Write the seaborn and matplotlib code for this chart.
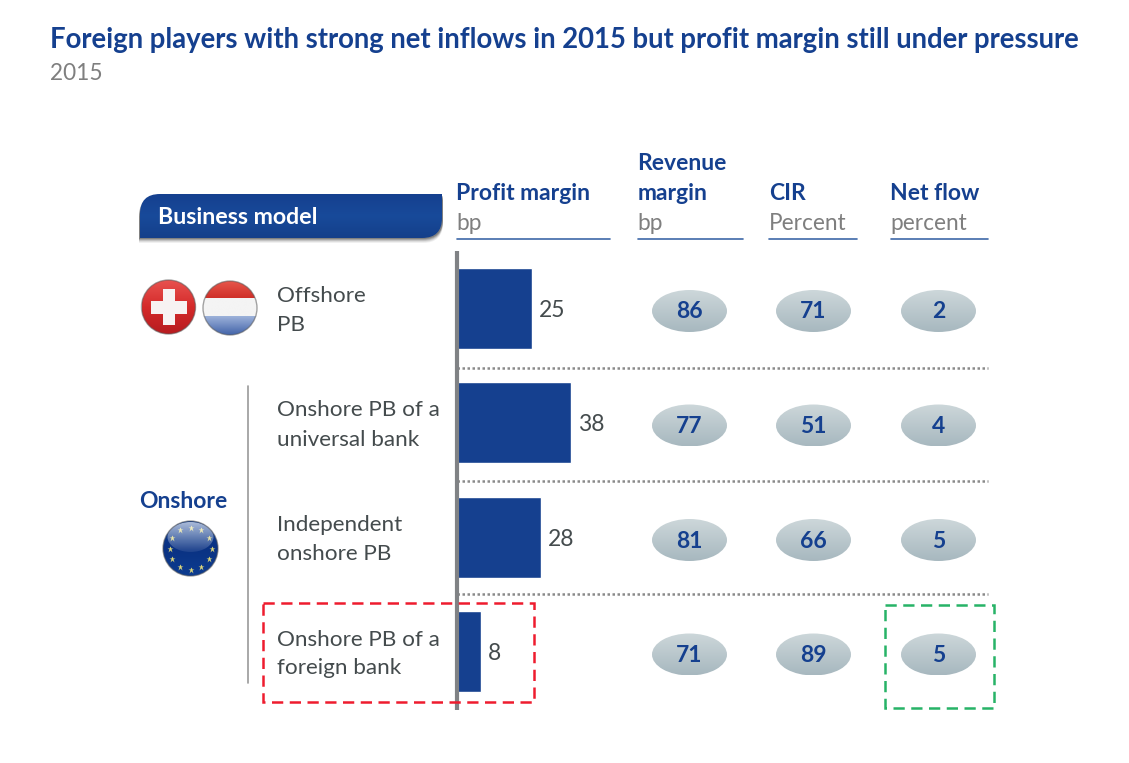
import numpy as np
import pandas as pd
import matplotlib
matplotlib.use("Agg")
import matplotlib.pyplot as plt
from matplotlib.patches import Ellipse, Circle, PathPatch, Rectangle
from matplotlib.path import Path
from matplotlib.colors import LinearSegmentedColormap
import seaborn as sns

title = "Foreign players with strong net inflows in 2015 but profit margin still under pressure"
subtitle = "2015"
models = ["Offshore\nPB", "Onshore PB of a\nuniversal bank", "Independent\nonshore PB", "Onshore PB of a\nforeign bank"]
profit_margin = [25, 38, 28, 8]
revenue_margin = [86, 77, 81, 71]
cir = [71, 51, 66, 89]
net_flow = [2, 4, 5, 5]

NAVY = "#15408F"
GREY = "#7F7F7F"
DARK = "#444B4D"

sns.set_theme(style="white")
plt.rcParams["font.family"] = ["Lato", "DejaVu Sans"]

W, H = 1129, 763
fig = plt.figure(figsize=(W / 100, H / 100), dpi=100, facecolor="white")

def px_rect(l, t, r, b):
    return [l / W, 1 - b / H, (r - l) / W, (b - t) / H]

# overlay in pixel space for the infographic furniture
bg = fig.add_axes([0, 0, 1, 1], zorder=1)
bg.set_xlim(0, W); bg.set_ylim(H, 0); bg.axis("off")

# bar axes
ax = fig.add_axes(px_rect(457, 251.5, 457 + 3.0 * 50, 708.5), zorder=2)
ax.patch.set_alpha(0)
df = pd.DataFrame({"model": models, "profit": profit_margin})
sns.barplot(data=df, x="profit", y="model", color=NAVY, saturation=1, width=0.71, ax=ax, orient="h")
ax.set_xlim(0, 50); ax.set_ylim(3.5, -0.5)
ax.set_xticks([]); ax.set_yticks([])
ax.set_xlabel(""); ax.set_ylabel("")
for s in ax.spines.values():
    s.set_visible(False)
for i, v in enumerate(profit_margin):
    ax.annotate(str(v), (v, i), xytext=(7, -2), textcoords="offset pixels", va="center", ha="left",
                fontsize=16.5, color=DARK)

over = fig.add_axes([0, 0, 1, 1], zorder=3)
over.set_xlim(0, W); over.set_ylim(H, 0); over.axis("off"); over.patch.set_alpha(0)

def grad(axx, patch, extent, stops, zorder=2, horizontal=False):
    cmap = LinearSegmentedColormap.from_list("g", stops)
    g = np.linspace(0, 1, 128).reshape(-1, 1)
    if horizontal:
        g = g.T
    im = axx.imshow(g, extent=extent, cmap=cmap, aspect="auto", zorder=zorder, interpolation="bilinear")
    im.set_clip_path(patch)
    axx.set_xlim(0, W); axx.set_ylim(H, 0)
    return im

# title
over.text(50, 40, title, fontsize=19.83, fontweight="bold", color=NAVY, va="center", ha="left")
over.text(50, 73, subtitle, fontsize=16.3, color=GREY, va="center", ha="left")

# header pill
def pill(l, t, r, b, rad):
    v = [(l + rad, t), (r, t), (r, b - rad), (r, b), (r - rad, b), (l, b), (l, t + rad), (l, t), (l + rad, t)]
    c = [Path.MOVETO, Path.LINETO, Path.LINETO, Path.CURVE3, Path.CURVE3, Path.LINETO, Path.LINETO, Path.CURVE3, Path.CURVE3]
    return Path(v, c)
for k, a in [(5, .06), (4, .08), (3, .12), (2, .16), (1, .2)]:
    bg.add_patch(PathPatch(pill(139, 195 + k, 443, 238 + k, 20), fc="black", ec="none", alpha=a, zorder=1))
pp = PathPatch(pill(140, 194, 442, 238, 20), fc="none", ec="none", zorder=2)
bg.add_patch(pp)
grad(bg, pp, (140, 442, 238, 194), ["#15408F", "#184A9A", "#143F8A"])
bg.text(158, 218, "Business model", fontsize=16.7, fontweight="bold", color="white", va="center", ha="left", zorder=3)

# column headers
cols = [(456.5, 610, ["Profit margin"], "bp"),
        (637.5, 743, ["Revenue", "margin"], "bp"),
        (769, 857, ["CIR"], "Percent"),
        (890.5, 988, ["Net flow"], "percent")]
for l, r, heads, unit in cols:
    for j, h in enumerate(reversed(heads)):
        over.text(l, 194 - 30 * j, h, fontsize=16.5, fontweight="bold", color=NAVY, va="center", ha="left")
    over.text(l, 223, unit, fontsize=16.3, color=GREY, va="center", ha="left")
    over.plot([l, r], [239, 239], color="#3E68A8", lw=1.2)

# row labels
for i, m in enumerate(models):
    top, bot = m.split("\n")
    cy = 311 + 114.5 * i
    over.text(277, cy - 15, top, fontsize=16.2, color=DARK, va="center", ha="left")
    over.text(277, cy + 14, bot, fontsize=16.2, color=DARK, va="center", ha="left")

# axis line, separators, bracket
over.plot([456.5, 456.5], [251, 710], color="#808285", lw=3, solid_capstyle="butt", zorder=4)
for y in (367.5, 481, 594):
    over.plot([457, 988], [y, y], color="#8A8A8A", lw=1.8, ls=(0, (1, 1)), zorder=1)
over.plot([248, 248], [386, 683], color="#9A9A9A", lw=1.2)

# bubbles
bubble_x = [689.5, 813.5, 938.5]
for x, vals in zip(bubble_x, [revenue_margin, cir, net_flow]):
    for i, v in enumerate(vals):
        cy = 311 + 114.5 * i
        e = Ellipse((x, cy), 75, 42, fc="none", ec="none", zorder=2)
        over.add_patch(e)
        grad(over, e, (x - 38, x + 38, cy + 21, cy - 21), ["#CDD7DA", "#A7B8BF"])
        over.text(x, cy + 1, str(v), fontsize=16.5, fontweight="bold", color=NAVY, va="center", ha="center", zorder=5)

# dashed boxes
over.add_patch(Rectangle((263, 603), 270.5, 99, fc="none", ec="#EE1C2E", lw=1.8, ls=(0, (4.5, 2.6)), zorder=6))
over.add_patch(Rectangle((884.5, 605), 109.5, 102.5, fc="none", ec="#27B367", lw=1.8, ls=(0, (4.5, 2.6)), zorder=6))

# flags
def ball(cx, cy, r, stops):
    c = Circle((cx, cy), r, fc="none", ec="none", zorder=2)
    over.add_patch(c)
    grad(over, c, (cx - r, cx + r, cy + r, cy - r), stops)
    return c

def gloss(cx, cy, r):
    over.add_patch(Circle((cx, cy), r, fc="none", ec="#5A5A5A", lw=1, alpha=.55, zorder=4))

# Switzerland
ball(168.5, 307, 27, ["#E8524F", "#D42A2A", "#B71C20"])
over.add_patch(Rectangle((150.5, 301), 36, 13, fc="#F7F2F2", ec="none", zorder=3))
over.add_patch(Rectangle((162.5, 289), 12, 36, fc="#F7F2F2", ec="none", zorder=3))
gloss(168.5, 307, 27)
# Netherlands
cn = ball(230, 308, 27, ["#F4F4F4", "#F4F4F4"])
for t, b, stops in [(280, 298, ["#E8584C", "#CF2F29"]), (316, 336, ["#9DB2DA", "#3D5FA6"])]:
    grad(over, cn, (200, 260, b, t), stops, zorder=3)
gloss(230, 308, 27)
# EU
ce = ball(190.5, 548.5, 27.5, ["#0D3C90", "#0A3283", "#0D3C90"])
for k in range(12):
    a = 2 * np.pi * k / 12
    over.plot(190.5 + 21 * np.cos(a), 548.5 + 21 * np.sin(a), marker="*", ms=4.5, color="#DDD77A", mec="none", zorder=3)
top = Ellipse((190.5, 537), 46, 30, fc="none", ec="none", zorder=4)
over.add_patch(top)
grad(over, top, (166, 215, 552, 522), [(1, 1, 1, .65), (1, 1, 1, .08)], zorder=4)
gloss(190.5, 548.5, 27.5)
over.text(183.5, 502, "Onshore", fontsize=16.5, fontweight="bold", color=NAVY, va="center", ha="center")

fig.savefig("out.png", dpi=100)
